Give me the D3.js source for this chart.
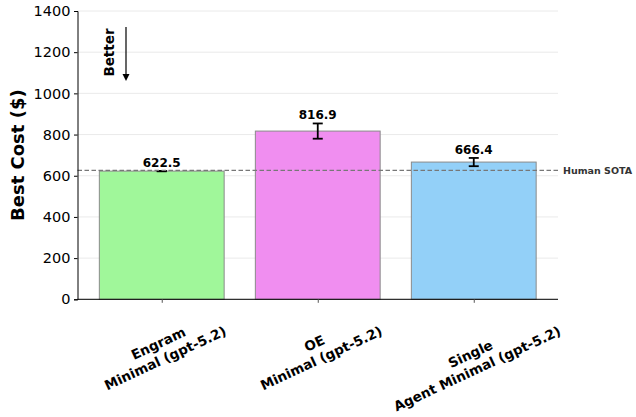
<!DOCTYPE html>
<html>
<head>
<meta charset="utf-8">
<script src="https://cdn.jsdelivr.net/npm/d3@7"></script>
<style>
  html, body { margin: 0; padding: 0; background: #fff; }
  svg { display: block; font-family: "DejaVu Sans", sans-serif; }
</style>
</head>
<body>
<svg id="chart" width="636" height="417"></svg>
<script>
// Best cost per configuration, with error (std) and the human reference level
const categories = [
  ["Engram", "Minimal (gpt-5.2)"],
  ["OE", "Minimal (gpt-5.2)"],
  ["Single", "Agent Minimal (gpt-5.2)"]
];
const costs = [622.5, 816.9, 666.4];
const errors = [1, 37, 20];
const barColors = ["#a0f79a", "#f08ef0", "#93d0f8"];
const yTicks = [0, 200, 400, 600, 800, 1000, 1200, 1400];
const humanSota = 626;

(function draw() {
  const svg = d3.select("#chart");
  const plotL = 77.5, plotR = 558, plotT = 11, plotB = 299.3;

  const x = d3.scaleLinear().domain([-0.54, 2.54]).range([plotL, plotR]);
  const y = d3.scaleLinear().domain([0, 1400]).range([plotB, plotT]);
  const barW = x(0.8) - x(0);

  // horizontal grid
  svg.append("g").selectAll("line").data(yTicks).join("line")
    .attr("x1", plotL).attr("x2", plotR)
    .attr("y1", d => y(d)).attr("y2", d => y(d))
    .attr("stroke", "#e5e5e5").attr("stroke-width", 0.8);

  // bars
  svg.append("g").selectAll("rect").data(costs).join("rect")
    .attr("x", (d, i) => x(i) - barW / 2)
    .attr("width", barW)
    .attr("y", d => y(d))
    .attr("height", d => y(0) - y(d))
    .attr("fill", (d, i) => barColors[i])
    .attr("stroke", "#8a8a8a").attr("stroke-width", 1);

  // error bars
  const eb = svg.append("g").attr("stroke", "#000").attr("stroke-width", 1.8);
  costs.forEach((c, i) => {
    const cx = x(i), y1 = y(c + errors[i]), y0 = y(c - errors[i]);
    eb.append("line").attr("x1", cx).attr("x2", cx).attr("y1", y1).attr("y2", y0);
    eb.append("line").attr("x1", cx - 5).attr("x2", cx + 5).attr("y1", y1).attr("y2", y1);
    eb.append("line").attr("x1", cx - 5).attr("x2", cx + 5).attr("y1", y0).attr("y2", y0);
  });

  // human reference level
  svg.append("line")
    .attr("x1", plotL).attr("x2", 559)
    .attr("y1", y(humanSota)).attr("y2", y(humanSota))
    .attr("stroke", "#777").attr("stroke-width", 1.2)
    .attr("stroke-dasharray", "4.5,2.5");
  svg.append("text")
    .attr("x", 563).attr("y", y(humanSota) + 3.3)
    .attr("font-size", 9.5).attr("font-weight", "bold").attr("fill", "#333")
    .text("Human SOTA");

  // value labels
  svg.append("g").selectAll("text").data(costs).join("text")
    .attr("x", (d, i) => x(i))
    .attr("y", (d, i) => y(d + errors[i]) - 4)
    .attr("text-anchor", "middle")
    .attr("font-size", 12).attr("font-weight", "bold").attr("fill", "#000")
    .text(d => d.toFixed(1));

  // y axis
  const yAxis = d3.axisLeft(y).tickValues(yTicks).tickSize(3.5).tickPadding(3.5).tickFormat(d3.format("d"));
  const gy = svg.append("g").attr("transform", `translate(${plotL},0)`).call(yAxis);
  gy.select(".domain").attr("stroke", "#000").attr("stroke-width", 1);
  gy.selectAll(".tick line").attr("stroke", "#000");
  gy.selectAll(".tick text").attr("font-size", 14.5).attr("fill", "#000")
    .attr("font-family", "DejaVu Sans");

  // x axis
  const xAxis = d3.axisBottom(x).tickValues([0, 1, 2]).tickSize(3.5).tickFormat("");
  const gx = svg.append("g").attr("transform", `translate(0,${plotB})`).call(xAxis);
  gx.select(".domain").attr("stroke", "#000").attr("stroke-width", 1).attr("d", `M${plotL},0H${plotR}`);
  gx.selectAll(".tick line").attr("stroke", "#555");

  // rotated category labels (two lines, centred)
  const ang = 25, rad = ang * Math.PI / 180, fs = 13.5, lh = fs * 1.2;
  categories.forEach((lines, i) => {
    const g = svg.append("g");
    const t = g.append("text").attr("font-size", fs).attr("font-weight", "bold")
      .attr("text-anchor", "middle").attr("fill", "#000");
    lines.forEach((ln, k) => {
      t.append("tspan").attr("x", 0).attr("y", (k - (lines.length - 1) / 2) * lh + fs * 0.36).text(ln);
    });
    let wmax = 0;
    t.selectAll("tspan").each(function () { wmax = Math.max(wmax, this.getComputedTextLength()); });
    const hBlock = lines.length * lh;
    const cy = 308 + (wmax * Math.sin(rad) + hBlock * Math.cos(rad)) / 2;
    g.attr("transform", `translate(${x(i)},${cy}) rotate(${-ang})`);
  });

  // y axis title
  svg.append("text")
    .attr("transform", `translate(23.5,${(plotT + plotB) / 2}) rotate(-90)`)
    .attr("text-anchor", "middle")
    .attr("font-size", 18).attr("font-weight", "bold").attr("fill", "#000")
    .text("Best Cost ($)");

  // "Better" direction hint
  svg.append("text")
    .attr("transform", `translate(114,52.5) rotate(-90)`)
    .attr("text-anchor", "middle")
    .attr("font-size", 13.5).attr("font-weight", "bold").attr("fill", "#000")
    .text("Better");
  svg.append("line").attr("x1", 126).attr("x2", 126).attr("y1", 27).attr("y2", 76)
    .attr("stroke", "#000").attr("stroke-width", 1.2);
  svg.append("path").attr("d", "M122.5,74 L126,81 L129.5,74 Z").attr("fill", "#000");
})();
</script>
</body>
</html>
